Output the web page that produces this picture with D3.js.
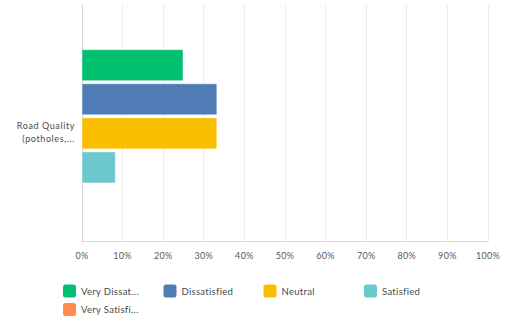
<!DOCTYPE html>
<html>
<head>
<meta charset="utf-8">
<script src="https://cdn.jsdelivr.net/npm/d3@7/dist/d3.min.js"></script>
<style>
  html, body { margin: 0; padding: 0; background: #fff; }
  svg { display: block; font-family: Lato, "Open Sans", sans-serif; }
</style>
</head>
<body>
<svg id="chart" width="508" height="322"></svg>
<script>
// Survey question rows and answer choices
const categories = ["Road Quality (potholes, cracks)"];
const categoryLines = [["Road Quality", "(potholes,..."]];
const seriesNames = ["Very Dissatisfied", "Dissatisfied", "Neutral", "Satisfied", "Very Satisfied"];
const legendLabels = ["Very Dissat...", "Dissatisfied", "Neutral", "Satisfied", "Very Satisfi..."];
const seriesColors = ["#00bf6f", "#507cb6", "#f9be00", "#6bc8cd", "#ff8b4f"];
// Percentage of responses per answer choice
const values = [[25.0, 33.33, 33.33, 8.33, 0]];
const tickValues = [0, 10, 20, 30, 40, 50, 60, 70, 80, 90, 100];

const svg = d3.select("#chart");
const plot = { left: 81.5, right: 487.5, top: 5, bottom: 241 };

const x = d3.scaleLinear().domain([0, 100]).range([plot.left, plot.right]);
const yCat = d3.scaleBand().domain(categories).range([25, plot.bottom]).paddingInner(0).paddingOuter(0);
const ySer = d3.scaleBand().domain(seriesNames)
  .range([24.7, yCat.bandwidth() - 24]).paddingInner(0.09).paddingOuter(0);

// vertical grid lines
svg.append("g").selectAll("line").data(tickValues).join("line")
  .attr("x1", d => Math.round(x(d)) + 0.5).attr("x2", d => Math.round(x(d)) + 0.5)
  .attr("y1", plot.top).attr("y2", plot.bottom)
  .attr("stroke", (d, i) => i === 0 ? "#d6d6d6" : "#ebebeb").attr("stroke-width", 1);

// bottom axis line
svg.append("line")
  .attr("x1", plot.left).attr("x2", plot.right + 1)
  .attr("y1", plot.bottom + 0.5).attr("y2", plot.bottom + 0.5)
  .attr("stroke", "#d6d6d6");

// bars
const groups = svg.append("g").selectAll("g").data(categories).join("g")
  .attr("transform", d => `translate(0,${yCat(d)})`);
groups.selectAll("rect")
  .data((d, ci) => seriesNames.map((s, si) => ({ s, si, v: values[ci][si] })).filter(e => e.v > 0))
  .join("rect")
  .attr("x", x(0) + 0.5)
  .attr("y", e => ySer(e.s))
  .attr("width", e => x(e.v) - x(0) - 0.5)
  .attr("height", ySer.bandwidth())
  .attr("fill", e => seriesColors[e.si])
  .attr("stroke", "rgba(255,255,255,0.45)")
  .attr("stroke-width", 1);

// category label
const catLabel = svg.append("g").selectAll("text").data(categories).join("text")
  .attr("text-anchor", "end")
  .attr("font-size", 9)
  .attr("fill", "#4a4a4a")
  .attr("letter-spacing", 0.6);
catLabel.each(function (d, i) {
  const cy = yCat(d) + yCat.bandwidth() / 2;
  const lines = categoryLines[i];
  d3.select(this).selectAll("tspan").data(lines).join("tspan")
    .attr("x", 75)
    .attr("y", (l, li) => cy - 4 + li * 12.8)
    .text(l => l);
});

// x axis tick labels
svg.append("g").selectAll("text").data(tickValues).join("text")
  .attr("x", d => x(d) + 0.5)
  .attr("y", 259)
  .attr("text-anchor", "middle")
  .attr("font-size", 9)
  .attr("fill", "#5a5a5a")
  .attr("letter-spacing", 0.3)
  .text(d => d + "%");

// legend
const legendPos = [[63, 284.5], [163.5, 284.5], [263.5, 284.5], [364, 284.5], [63, 303]];
const legend = svg.append("g").selectAll("g").data(seriesNames).join("g")
  .attr("transform", (d, i) => `translate(${legendPos[i][0]},${legendPos[i][1]})`);
legend.append("rect")
  .attr("width", 13).attr("height", 13).attr("rx", 2.5)
  .attr("fill", (d, i) => seriesColors[i]);
legend.append("text")
  .attr("x", 18).attr("y", 10.2)
  .attr("font-size", 9.5)
  .attr("fill", "#4a4a4a")
  .attr("letter-spacing", 0.3)
  .text((d, i) => legendLabels[i]);
</script>
</body>
</html>
